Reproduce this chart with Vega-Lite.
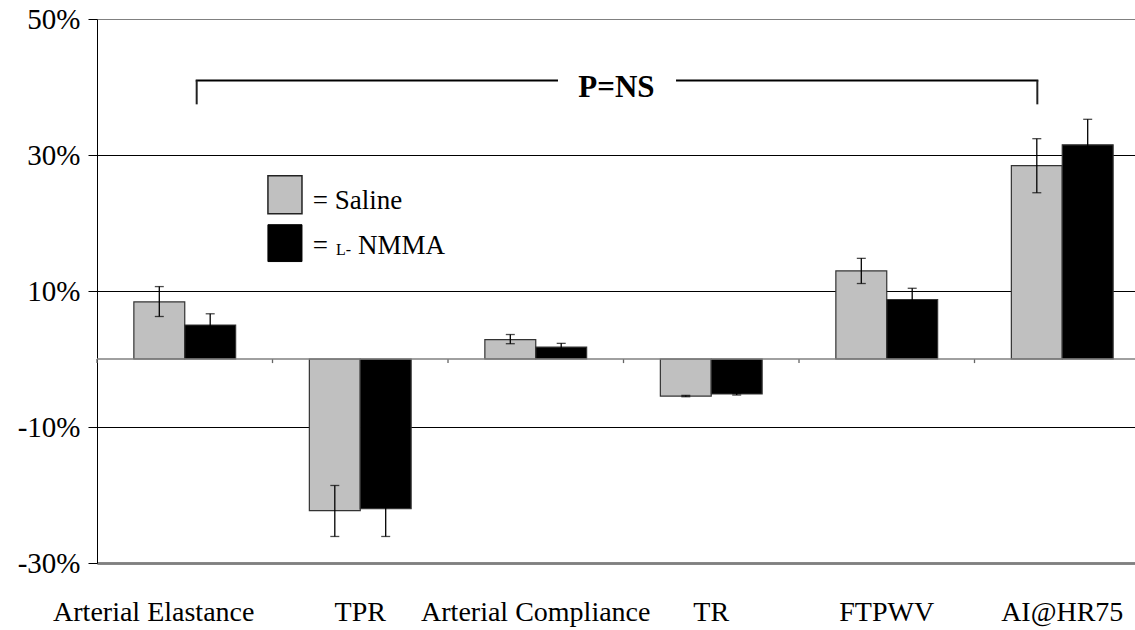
{
  "$schema": "https://vega.github.io/schema/vega-lite/v6.json",
  "autosize": {"type": "none"},
  "padding": {"left": 97, "top": 19, "right": 0, "bottom": 67},
  "width": 1038,
  "height": 544,
  "config": {"view": {"stroke": null}, "font": "Liberation Serif", "axis": {"labelFont": "Liberation Serif"}, "text": {"font": "Liberation Serif"}},
  "data": {"values": [
    {"measure": "Arterial Elastance", "group": "Saline", "value": 8.4, "lo": 6.25, "hi": 10.65},
    {"measure": "Arterial Elastance", "group": "L-NMMA", "value": 5.0, "lo": 3.35, "hi": 6.65},
    {"measure": "TPR", "group": "Saline", "value": -22.3, "lo": -26.1, "hi": -18.6},
    {"measure": "TPR", "group": "L-NMMA", "value": -22.0, "lo": -26.1, "hi": -17.9},
    {"measure": "Arterial Compliance", "group": "Saline", "value": 2.85, "lo": 2.25, "hi": 3.6},
    {"measure": "Arterial Compliance", "group": "L-NMMA", "value": 1.75, "lo": 1.25, "hi": 2.3},
    {"measure": "TR", "group": "Saline", "value": -5.45, "lo": -5.55, "hi": -5.35},
    {"measure": "TR", "group": "L-NMMA", "value": -5.15, "lo": -5.3, "hi": -5.0},
    {"measure": "FTPWV", "group": "Saline", "value": 12.95, "lo": 11.1, "hi": 14.8},
    {"measure": "FTPWV", "group": "L-NMMA", "value": 8.75, "lo": 7.1, "hi": 10.4},
    {"measure": "AI@HR75", "group": "Saline", "value": 28.45, "lo": 24.45, "hi": 32.4},
    {"measure": "AI@HR75", "group": "L-NMMA", "value": 31.5, "lo": 27.8, "hi": 35.25}
  ]},
  "resolve": {"scale": {"x": "independent"}},
  "layer": [
    {
      "encoding": {
        "x": {
          "field": "measure", "type": "nominal", "title": null,
          "sort": ["Arterial Elastance", "TPR", "Arterial Compliance", "TR", "FTPWV", "AI@HR75"],
          "scale": {"paddingInner": 0.42, "paddingOuter": 0.21, "range": [0, 1053]},
          "axis": {
            "orient": "bottom", "domain": true, "domainColor": "#808080", "domainWidth": 2.5,
            "ticks": false, "labelAngle": 0, "labelFontSize": 28, "labelColor": "black",
            "labelFont": "Liberation Serif", "labelBaseline": "alphabetic", "labelPadding": 57,
            "labelLimit": 400, "labelOverlap": false,
            "labelOffset": {"condition": {"test": "datum.value == 'Arterial Elastance'", "value": -31}, "value": 0}
          }
        }
      },
      "layer": [
        {
          "mark": {"type": "bar", "stroke": "#333333", "strokeWidth": 1.2},
          "encoding": {
            "xOffset": {"field": "group", "sort": ["Saline", "L-NMMA"], "scale": {"paddingInner": 0, "paddingOuter": 0}},
            "y": {
              "field": "value", "type": "quantitative", "title": null,
              "scale": {"domain": [-30, 50], "nice": false, "zero": false},
              "axis": {
                "values": [-30, -10, 10, 30, 50],
                "labelExpr": "datum.value + '%'",
                "labelFontSize": 29, "labelColor": "black", "labelFont": "Liberation Serif",
                "labelBaseline": "alphabetic", "labelOffset": 9, "labelPadding": 8,
                "domainColor": "black", "domainWidth": 1,
                "tickColor": "black", "tickSize": 9, "tickWidth": 1,
                "grid": true,
                "gridColor": {"condition": {"test": "datum.value == 50 || datum.value == -30", "value": "#808080"}, "value": "black"},
                "gridWidth": {"condition": {"test": "datum.value == -30", "value": 2.5}, "value": 1},
                "gridOpacity": 1
              }
            },
            "color": {"field": "group", "type": "nominal", "scale": {"domain": ["Saline", "L-NMMA"], "range": ["#c0c0c0", "#000000"]}, "legend": null}
          }
        },
        {
          "mark": {"type": "rule", "color": "#000000", "strokeWidth": 1.3},
          "encoding": {
            "xOffset": {"field": "group", "sort": ["Saline", "L-NMMA"]},
            "y": {"field": "lo", "type": "quantitative", "title": null},
            "y2": {"field": "hi"}
          }
        },
        {
          "mark": {"type": "tick", "color": "#000000", "thickness": 1.3, "size": 9},
          "encoding": {
            "xOffset": {"field": "group", "sort": ["Saline", "L-NMMA"]},
            "y": {"field": "lo", "type": "quantitative", "title": null}
          }
        },
        {
          "mark": {"type": "tick", "color": "#000000", "thickness": 1.3, "size": 9},
          "encoding": {
            "xOffset": {"field": "group", "sort": ["Saline", "L-NMMA"]},
            "y": {"field": "hi", "type": "quantitative", "title": null}
          }
        },
        {
          "transform": [{"filter": "datum.group == 'Saline'"}],
          "mark": {"type": "rule", "color": "#666666", "strokeWidth": 1.3},
          "encoding": {
            "x": {"field": "measure", "type": "nominal", "title": null,
                  "sort": ["Arterial Elastance", "TPR", "Arterial Compliance", "TR", "FTPWV", "AI@HR75"],
                  "bandPosition": -0.362},
            "y": {"datum": 0, "type": "quantitative"},
            "y2": {"datum": -0.6}
          }
        }
      ]
    },
    {
      "data": {"values": [{}]},
      "layer": [
        {
          "mark": {"type": "rule", "color": "#808080", "strokeWidth": 1.5},
          "encoding": {"y": {"datum": 0, "type": "quantitative"}}
        },
        {
          "mark": {"type": "rule", "color": "black", "strokeWidth": 2, "strokeCap": "square"},
          "encoding": {
            "x": {"datum": 0.568, "type": "quantitative", "scale": {"domain": [0, 6], "range": [0, 1053], "nice": false, "zero": false}, "axis": null},
            "x2": {"datum": 2.621},
            "y": {"datum": 40.97, "type": "quantitative"}
          }
        },
        {
          "mark": {"type": "rule", "color": "black", "strokeWidth": 2, "strokeCap": "square"},
          "encoding": {
            "x": {"datum": 3.305, "type": "quantitative", "scale": {"domain": [0, 6], "range": [0, 1053], "nice": false, "zero": false}, "axis": null},
            "x2": {"datum": 5.358},
            "y": {"datum": 40.97, "type": "quantitative"}
          }
        },
        {
          "mark": {"type": "rule", "color": "#222222", "strokeWidth": 2},
          "encoding": {
            "x": {"datum": 0.568, "type": "quantitative", "scale": {"domain": [0, 6], "range": [0, 1053], "nice": false, "zero": false}, "axis": null},
            "y": {"datum": 40.97, "type": "quantitative"},
            "y2": {"datum": 37.45}
          }
        },
        {
          "mark": {"type": "rule", "color": "#222222", "strokeWidth": 2},
          "encoding": {
            "x": {"datum": 5.358, "type": "quantitative", "scale": {"domain": [0, 6], "range": [0, 1053], "nice": false, "zero": false}, "axis": null},
            "y": {"datum": 40.97, "type": "quantitative"},
            "y2": {"datum": 37.45}
          }
        },
        {
          "mark": {"type": "text", "text": "P=NS", "font": "Liberation Serif", "fontSize": 31, "fontWeight": "bold", "align": "center", "baseline": "alphabetic", "color": "black"},
          "encoding": {
            "x": {"datum": 2.96, "type": "quantitative", "scale": {"domain": [0, 6], "range": [0, 1053], "nice": false, "zero": false}, "axis": null},
            "y": {"datum": 38.5, "type": "quantitative"}
          }
        },
        {
          "mark": {"type": "rect", "fill": "#c0c0c0", "stroke": "#222222", "strokeWidth": 1.5},
          "encoding": {
            "x": {"datum": 0.974, "type": "quantitative", "scale": {"domain": [0, 6], "range": [0, 1053], "nice": false, "zero": false}, "axis": null},
            "x2": {"datum": 1.168},
            "y": {"datum": 26.94, "type": "quantitative"},
            "y2": {"datum": 21.36}
          }
        },
        {
          "mark": {"type": "rect", "fill": "black", "stroke": "black", "strokeWidth": 1},
          "encoding": {
            "x": {"datum": 0.974, "type": "quantitative", "scale": {"domain": [0, 6], "range": [0, 1053], "nice": false, "zero": false}, "axis": null},
            "x2": {"datum": 1.168},
            "y": {"datum": 19.75, "type": "quantitative"},
            "y2": {"datum": 14.33}
          }
        },
        {
          "mark": {"type": "text", "text": "= Saline", "font": "Liberation Serif", "fontSize": 27, "align": "left", "baseline": "alphabetic", "color": "black"},
          "encoding": {
            "x": {"datum": 1.23, "type": "quantitative", "scale": {"domain": [0, 6], "range": [0, 1053], "nice": false, "zero": false}, "axis": null},
            "y": {"datum": 22.1, "type": "quantitative"}
          }
        },
        {
          "mark": {"type": "text", "text": "=", "font": "Liberation Serif", "fontSize": 27, "align": "left", "baseline": "alphabetic", "color": "black"},
          "encoding": {
            "x": {"datum": 1.23, "type": "quantitative", "scale": {"domain": [0, 6], "range": [0, 1053], "nice": false, "zero": false}, "axis": null},
            "y": {"datum": 15.45, "type": "quantitative"}
          }
        },
        {
          "mark": {"type": "text", "text": "L-", "font": "Liberation Serif", "fontSize": 16, "align": "left", "baseline": "alphabetic", "color": "black"},
          "encoding": {
            "x": {"datum": 1.362, "type": "quantitative", "scale": {"domain": [0, 6], "range": [0, 1053], "nice": false, "zero": false}, "axis": null},
            "y": {"datum": 15.3, "type": "quantitative"}
          }
        },
        {
          "mark": {"type": "text", "text": "NMMA", "font": "Liberation Serif", "fontSize": 27, "align": "left", "baseline": "alphabetic", "color": "black"},
          "encoding": {
            "x": {"datum": 1.487, "type": "quantitative", "scale": {"domain": [0, 6], "range": [0, 1053], "nice": false, "zero": false}, "axis": null},
            "y": {"datum": 15.45, "type": "quantitative"}
          }
        }
      ]
    }
  ]
}
